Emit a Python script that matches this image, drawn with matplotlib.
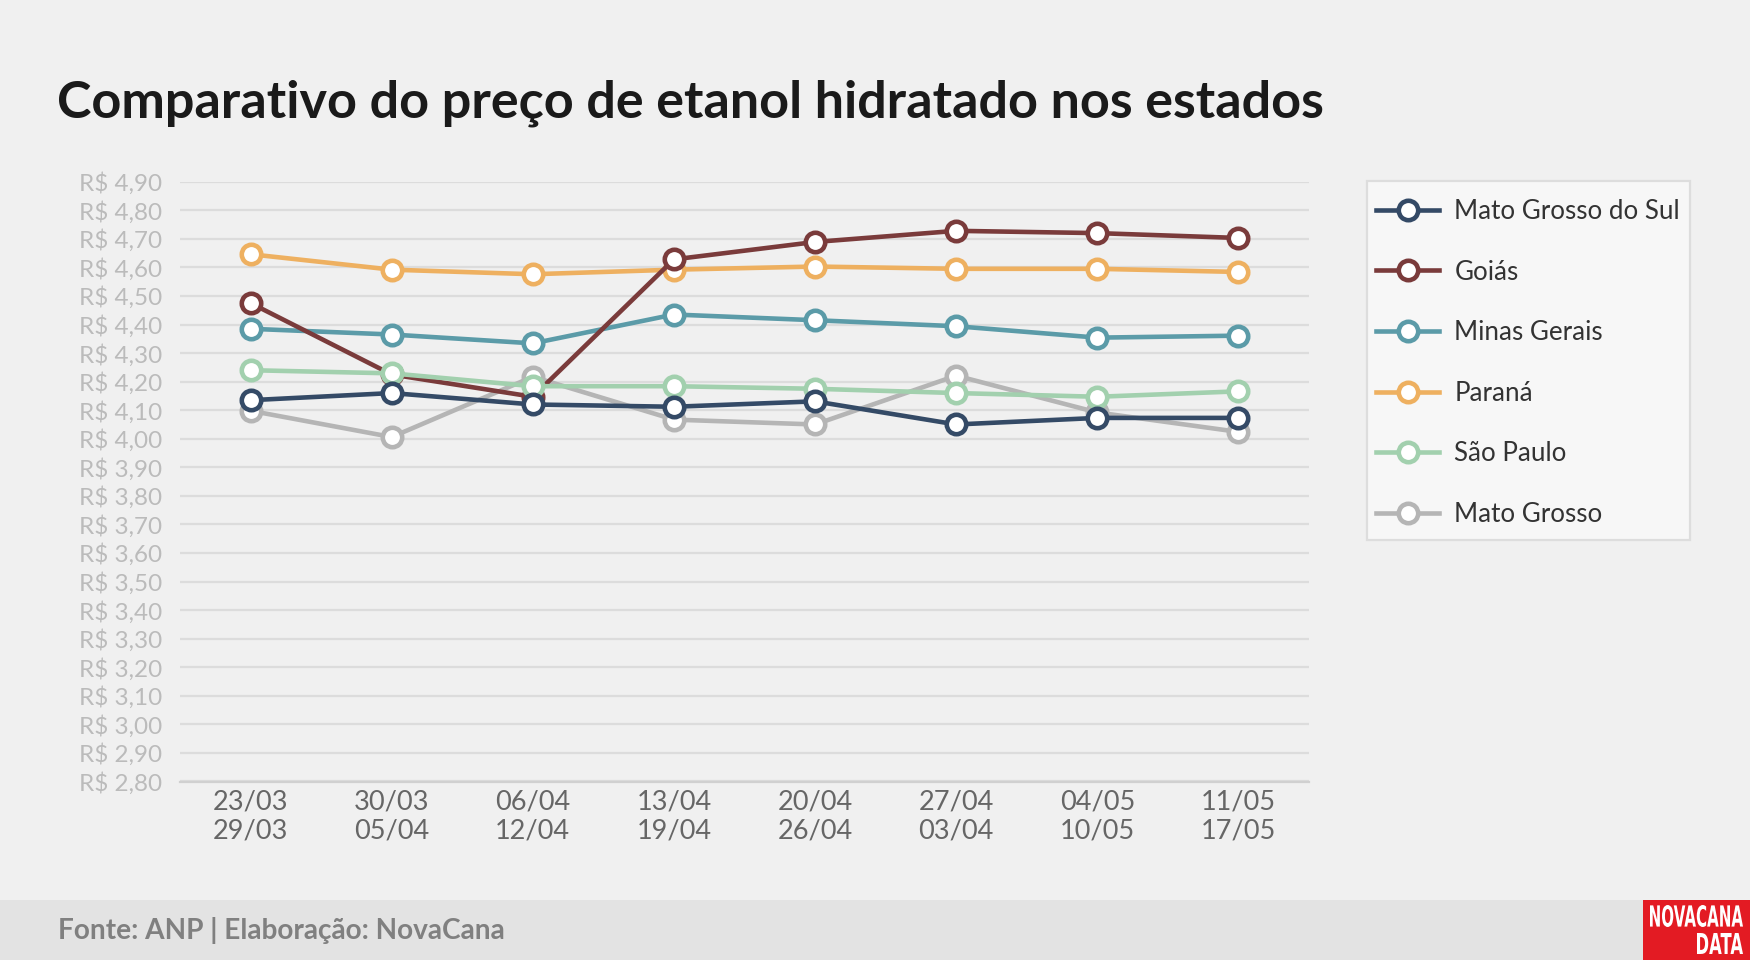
import numpy as np
import matplotlib
matplotlib.use("Agg")
import matplotlib.pyplot as plt
from matplotlib.patches import Rectangle, PathPatch
from matplotlib.textpath import TextPath
from matplotlib.font_manager import FontProperties
from matplotlib.transforms import Affine2D

# ---------------- data ----------------
weeks_start = ["23/03", "30/03", "06/04", "13/04", "20/04", "27/04", "04/05", "11/05"]
weeks_end = ["29/03", "05/04", "12/04", "19/04", "26/04", "03/04", "10/05", "17/05"]

mato_grosso_do_sul = [4.135, 4.160, 4.120, 4.112, 4.131, 4.050, 4.073, 4.073]
goias = [4.475, 4.225, 4.147, 4.628, 4.689, 4.728, 4.720, 4.703]
minas_gerais = [4.385, 4.365, 4.334, 4.435, 4.415, 4.394, 4.354, 4.361]
parana = [4.646, 4.592, 4.576, 4.592, 4.603, 4.595, 4.595, 4.584]
sao_paulo = [4.240, 4.229, 4.184, 4.184, 4.175, 4.160, 4.147, 4.166]
mato_grosso = [4.098, 4.006, 4.217, 4.067, 4.050, 4.221, 4.092, 4.024]

series_names = ["Mato Grosso do Sul", "Goiás", "Minas Gerais", "Paraná", "São Paulo", "Mato Grosso"]
series_values = [mato_grosso_do_sul, goias, minas_gerais, parana, sao_paulo, mato_grosso]
series_colors = ["#344A66", "#7A3B3B", "#5B9BA8", "#EEB060", "#A2D0AE", "#B5B5B5"]
series_z = [8, 6, 5, 4, 7, 3]

y_ticks = [round(2.8 + 0.1 * i, 2) for i in range(22)]
y_tick_labels = ["R$ " + f"{v:.2f}".replace(".", ",") for v in y_ticks]

title = "Comparativo do preço de etanol hidratado nos estados"
footer = "Fonte: ANP | Elaboração: NovaCana"

# ---------------- figure ----------------
W, H = 1750, 960
BG = "#F0F0F0"
plt.rcParams["font.family"] = ["Lato", "DejaVu Sans"]

fig = plt.figure(figsize=(W / 100, H / 100), dpi=100, facecolor=BG)

def fx(px):
    return px / W

def fy(py):
    return 1 - py / H

ax = fig.add_axes([fx(180), fy(781.5), fx(1309) - fx(180), fy(181.7) - fy(781.5)])
ax.set_facecolor(BG)

x = np.arange(len(weeks_start))
for name, vals, col, z in zip(series_names, series_values, series_colors, series_z):
    ax.plot(x, vals, color=col, lw=3.3, marker="o", ms=14, mew=3.3,
            mfc="white", mec=col, label=name, zorder=z, clip_on=False)

ax.set_xlim(-0.5, len(weeks_start) - 0.5)
ax.set_ylim(2.8, 4.9)
ax.set_yticks(y_ticks)
ax.set_yticklabels(y_tick_labels)
ax.set_xticks(x)
ax.set_xticklabels([f"{a}\n{b}" for a, b in zip(weeks_start, weeks_end)],
                   linespacing=1.2)
ax.tick_params(axis="y", length=0, pad=13, labelsize=17.5, labelcolor="#BBBBBB")
ax.tick_params(axis="x", length=0, pad=6, labelsize=19.5, labelcolor="#666666")
ax.grid(axis="y", color="#DCDCDC", lw=1.6, zorder=0)
ax.grid(axis="x", visible=False)
for sp in ["top", "right", "left"]:
    ax.spines[sp].set_visible(False)
ax.spines["bottom"].set_color("#D0D0D0")
ax.spines["bottom"].set_linewidth(1.6)
ax.set_axisbelow(True)

# legend frame (drawn as its own box) and legend entries
fig.add_artist(Rectangle((fx(1367), fy(540)), fx(1690) - fx(1367), fy(181) - fy(540),
                         transform=fig.transFigure, facecolor="#F7F7F7",
                         edgecolor="#DDDDDD", lw=1.6, zorder=1))
handles, labels = ax.get_legend_handles_labels()
leg = fig.legend(handles, labels, loc="upper left", bbox_to_anchor=(fx(1358.5), fy(181)),
                 bbox_transform=fig.transFigure, borderaxespad=0,
                 frameon=False, fontsize=18.7, labelspacing=1.37,
                 handlelength=2.4, handletextpad=0.6, borderpad=0.69,
                 labelcolor="#333333")
leg.set_zorder(3)

# title
fig.text(fx(57), fy(103), title, fontsize=37.5, fontweight="bold",
         color="#1A1A1A", va="center", ha="left")

# footer band
fig.add_artist(Rectangle((0, 0), 1, fy(900), transform=fig.transFigure,
                         facecolor="#E3E3E3", edgecolor="none", zorder=0))
fig.text(fx(58), fy(930), footer, fontsize=20.2, fontweight="bold",
         color="#808080", va="center", ha="left")

# logo
fig.add_artist(Rectangle((fx(1643), 0), 1 - fx(1643), fy(900),
                         transform=fig.transFigure, facecolor="#E31B23",
                         edgecolor="none", zorder=1))

def box_text(s, x0, x1, ytop, ybot):
    fp = FontProperties(family=["Liberation Sans Narrow", "DejaVu Sans"], weight="bold")
    tp = TextPath((0, 0), s, size=10, prop=fp)
    bb = tp.get_extents()
    sx = (fx(x1) - fx(x0)) / bb.width
    sy = (fy(ytop) - fy(ybot)) / bb.height
    tr = Affine2D().translate(-bb.x0, -bb.y0).scale(sx, sy).translate(fx(x0), fy(ybot))
    patch = PathPatch(tr.transform_path(tp), facecolor="white", edgecolor="none",
                      transform=fig.transFigure, zorder=2)
    fig.add_artist(patch)

box_text("NOVACANA", 1650, 1743, 905, 927)
box_text("DATA", 1697, 1743, 933, 954)

fig.savefig("out.png", dpi=100, facecolor=BG)
